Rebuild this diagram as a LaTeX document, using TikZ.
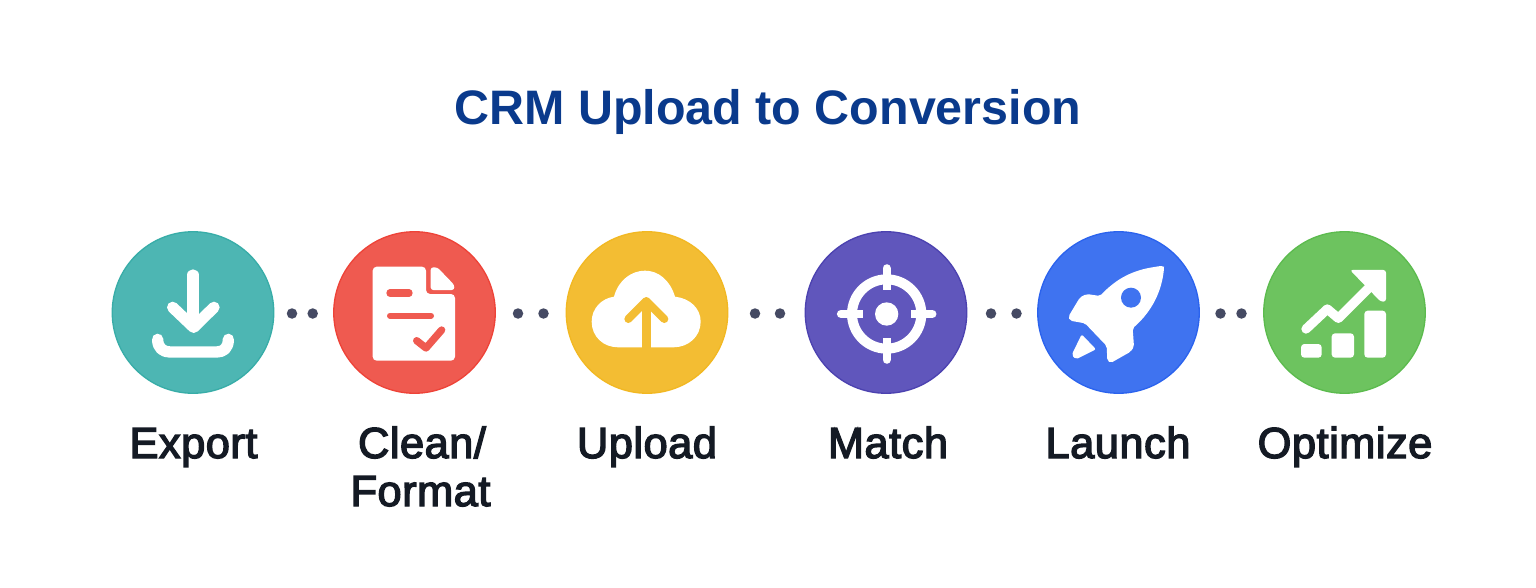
\documentclass[tikz,border=0pt]{standalone}
\usepackage{fontspec}
\setmainfont{Liberation Sans}
\newfontfamily\labfont[FakeBold=3.2,LetterSpace=1.2]{Liberation Sans}
\definecolor{ttl}{HTML}{0A3A8C}
\definecolor{lbl}{HTML}{141A24}
\definecolor{dotc}{HTML}{454A63}
\definecolor{teal}{HTML}{4DB6B3}\definecolor{tealE}{HTML}{38ADA8}
\definecolor{redc}{HTML}{EF5A50}\definecolor{redE}{HTML}{EE4338}
\definecolor{yel}{HTML}{F3BD33}\definecolor{yelE}{HTML}{F2B822}
\definecolor{pur}{HTML}{6056BC}\definecolor{purE}{HTML}{4C42B0}
\definecolor{blu}{HTML}{3F73F0}\definecolor{bluE}{HTML}{2B63EE}
\definecolor{gre}{HTML}{6DC35F}\definecolor{greE}{HTML}{5CBB4E}
\tikzset{
  disc/.style={circle,inner sep=0pt,minimum size=161.5*0.75pt,line width=1pt},
  gap/.style={circle,inner sep=0pt,minimum size=10.5*0.75pt,fill=dotc},
  title/.style={font=\fontsize{36.3pt}{36pt}\selectfont\bfseries,text=ttl,inner sep=0pt,anchor=base},
  lab/.style={font=\fontsize{32.5pt}{36pt}\selectfont\labfont,text=lbl,inner sep=0pt,anchor=base},
  zoomA/.style={x=0.25pt,y=-0.25pt,line join=round},
  wl/.style={white,line width=8.5pt,line cap=round,line join=round},
}
\begin{document}
\begin{tikzpicture}[x=0.75pt,y=-0.75pt]
\useasboundingbox[fill=white] (0,0) rectangle (1536,588);
\node[title] (t) at (768,125) {CRM Upload to Conversion};
\node[disc,fill=teal,draw=tealE] (c1) at (193,312.5) {};
\node[disc,fill=redc,draw=redE] (c2) at (414.5,312.5) {};
\node[disc,fill=yel,draw=yelE] (c3) at (647,312.5) {};
\node[disc,fill=pur,draw=purE] (c4) at (886,312.5) {};
\node[disc,fill=blu,draw=bluE] (c5) at (1118.5,312.5) {};
\node[disc,fill=gre,draw=greE] (c6) at (1344.5,312.5) {};
\node[gap] (d1) at (292,313.5) {};
\node[gap] (d2) at (312.7,313.5) {};
\node[gap] (d3) at (518,313.5) {};
\node[gap] (d4) at (543.5,313.5) {};
\node[gap] (d5) at (755,313.5) {};
\node[gap] (d6) at (780,313.5) {};
\node[gap] (d7) at (991,313.5) {};
\node[gap] (d8) at (1016.5,313.5) {};
\node[gap] (d9) at (1220.5,313.5) {};
\node[gap] (d10) at (1241.5,313.5) {};
\node[lab] (l1) at (193.5,458) {Export};
\node[lab] (l2a) at (422,458) {Clean/};
\node[lab] (l2b) at (420.5,506) {Format};
\node[lab] (l3) at (647,458) {Upload};
\node[lab] (l4) at (888,458) {Match};
\node[lab] (l5) at (1118,458) {Launch};
\node[lab] (l6) at (1345,458) {Optimize};
% icons, zoomed coordinates
\begin{scope}[shift={(100,220)},zoomA]
 % download
 \draw[wl] (279,165)--(279,318);
 \draw[wl] (218,262)--(281,322)--(342,262);
 \draw[wl] (173,358) .. controls (173,385) and (190,396) .. (210,396) -- (350,396) .. controls (370,396) and (385,385) .. (385,358);
 % document
 \fill[white,rounded corners=3pt] (818,140)--(978,140)--(978,222)--(1065,222)--(1065,422)--(818,422)--cycle;
 \fill[white,rounded corners=2pt] (992,142)--(1012,142)--(1063,195)--(1063,210)--(992,210)--cycle;
 \draw[redc,line width=5.5pt,line cap=round] (870,219)--(927,219);
 \draw[redc,line width=4.5pt,line cap=round] (870,287)--(993,287);
 \draw[redc,line width=5.5pt,line cap=round,line join=round] (950,362)--(978,384)--(1025,330);
\end{scope}
\begin{scope}[shift={(550,220)},zoomA]
 % cloud
 \fill[white] (205,382) .. controls (160,382) and (125,350) .. (125,305)
   .. controls (125,265) and (155,235) .. (192,230)
   .. controls (205,180) and (245,152) .. (285,152)
   .. controls (325,152) and (360,180) .. (375,230)
   .. controls (420,235) and (452,265) .. (452,305)
   .. controls (452,350) and (415,382) .. (370,382) -- cycle;
 \draw[yel,line width=6.5pt] (289,250)--(289,386);
 \draw[yel,line width=6pt,line cap=round,line join=round] (235,297)--(289,243)--(343,297);
 % target
 \draw[white,line width=7.5pt] (1010,282) circle[radius=104];
 \fill[white] (1010,282) circle[radius=35];
 \foreach \a in {0,90,180,270}{
  \begin{scope}[rotate around={\a:(1010,282)}]
   \draw[white,line width=6.2pt,line cap=round] (1010,145)--(1010,170);
   \draw[white,line width=6.2pt] (1010,150)--(1010,210);
  \end{scope}}
\end{scope}
\begin{scope}[shift={(1020,220)},zoomA]
 % rocket
 \fill[white,rounded corners=1.5pt] (432,146) .. controls (430,138) and (420,138) .. (410,140)
   .. controls (340,150) and (290,175) .. (240,228)
   -- (200,222) -- (180,232) -- (145,290) -- (150,302) -- (195,310) -- (260,378) -- (262,422) -- (272,429)
   -- (332,395) -- (342,380) -- (338,325)
   .. controls (400,270) and (425,210) .. cycle;
 \fill[blu] (333,233) circle[radius=30];
 \fill[white,rounded corners=1.5pt] (185,343)--(228,388)--(168,418)--(155,405)--cycle;
 % chart
 \draw[wl,line width=7pt] (858,327)--(922,267)--(955,295)--(1060,190);
 \fill[white,rounded corners=2pt] (990,150)--(1098,150)--(1098,245)--(1082,245)--cycle;
 \fill[white,rounded corners=2.5pt] (843,372) rectangle (905,413);
 \fill[white,rounded corners=2.5pt] (935,340) rectangle (1002,413);
 \fill[white,rounded corners=2.5pt] (1033,272) rectangle (1098,413);
\end{scope}
\end{tikzpicture}
\end{document}
